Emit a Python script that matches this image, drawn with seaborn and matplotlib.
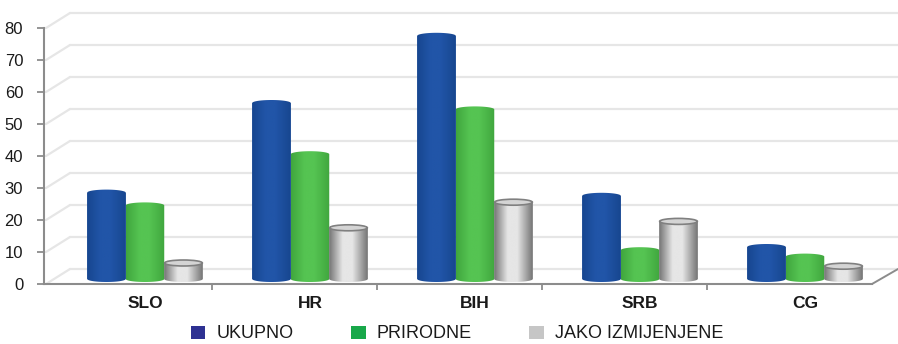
import numpy as np
import pandas as pd
import matplotlib
matplotlib.use("Agg")
import matplotlib.pyplot as plt
import seaborn as sns
import matplotlib.colors as mcolors
from matplotlib.transforms import offset_copy, IdentityTransform
from matplotlib.path import Path
from matplotlib.patches import PathPatch, Patch, Ellipse
from matplotlib.lines import Line2D

# ---------------- data ----------------
countries = ["SLO", "HR", "BIH", "SRB", "CG"]
series = ["UKUPNO", "PRIRODNE", "JAKO IZMIJENJENE"]
ukupno = [27, 55, 76, 26, 10]
prirodne = [23, 39, 53, 9, 7]
jako_izmijenjene = [5, 16, 24, 18, 4]
y_ticks = [0, 10, 20, 30, 40, 50, 60, 70, 80]

bar_colors = {"UKUPNO": "#1b4fa2", "PRIRODNE": "#4cb848", "JAKO IZMIJENJENE": "#bdbdbd"}
legend_colors = ["#2e3192", "#18a84a", "#c6c6c6"]
# shading: (edge, highlight) per series
shades = {
    "UKUPNO": ("#17468f", "#2155a8"),
    "PRIRODNE": ("#40a63e", "#55c452"),
    "JAKO IZMIJENJENE": ("#747474", "#e6e6e6"),
}

df = pd.DataFrame({
    "country": countries * 3,
    "series": [s for s in series for _ in countries],
    "value": ukupno + prirodne + jako_izmijenjene,
})

sns.set_theme(style="white")
plt.rcParams["font.family"] = ["Liberation Sans", "DejaVu Sans"]

W, H = 898, 344
fig = plt.figure(figsize=(W / 100, H / 100), dpi=100)
fig.patch.set_facecolor("white")
ax = fig.add_axes([44 / W, 60 / H, 828 / W, 256 / H])
ax.set_facecolor("none")

sns.barplot(data=df, x="country", y="value", hue="series", palette=bar_colors,
            width=0.70, saturation=1, ax=ax, legend=False, errorbar=None, zorder=3)

XL = (-0.612, 4.406)
ax.set_xlim(*XL)
ax.set_ylim(0, 80)

# bars sit slightly behind the front edge of the floor
bar_tr = offset_copy(ax.transData, fig=fig, x=0, y=5, units="dots")
e = 3.0 / 3.2  # ellipse half height in data units (~3 px)

patches = list(ax.patches)
n = len(countries)
for i, p in enumerate(patches):
    s = series[i // n] if i // n < len(series) else series[-1]
    x0, w, h = p.get_x(), p.get_width(), p.get_height()
    if w == 0:
        continue
    xc = x0 + w / 2
    t = np.linspace(np.pi, 0, 40)
    top = np.column_stack([xc + (w / 2) * np.cos(t), h + e * np.sin(t)])
    t2 = np.linspace(0, -np.pi, 40)
    bot = np.column_stack([xc + (w / 2) * np.cos(t2), 0 + e * np.sin(t2)])
    verts = np.vstack([[x0, 0], top, bot, [x0, 0]])
    codes = [Path.MOVETO] + [Path.LINETO] * (len(verts) - 2) + [Path.CLOSEPOLY]
    pp = PathPatch(Path(verts, codes), facecolor="none", edgecolor="none", transform=bar_tr)
    ax.add_patch(pp)
    p.set_transform(bar_tr)
    p.set_clip_path(pp)
    p.set_edgecolor("none")
    dark, light = shades[s]
    cmap = mcolors.LinearSegmentedColormap.from_list(
        "c", [(0, dark), (0.35, light), (0.6, light), (1, dark)])
    grad = np.linspace(0, 1, 200)[None, :]
    im = ax.imshow(grad, extent=(x0, x0 + w, -e, h + e), aspect="auto", cmap=cmap,
                   transform=bar_tr, zorder=3.5, interpolation="bilinear")
    im.set_clip_path(pp)
    if s == "JAKO IZMIJENJENE":
        cap = Ellipse((xc, h), w * 0.98, 2 * e, facecolor="#d4d4d4", edgecolor="#808080",
                      lw=1.2, transform=bar_tr, zorder=4)
        ax.add_patch(cap)

ax.set_xlim(*XL)
ax.set_ylim(0, 80)

# ---------------- 3D-like walls ----------------
wall_tr = offset_copy(ax.transData, fig=fig, x=26, y=15, units="dots")
for yv in y_ticks:
    ax.plot(list(XL), [yv, yv], transform=wall_tr, color="#e6e6e6", lw=1.6,
            clip_on=False, zorder=0)
fig.canvas.draw()
for yv in y_ticks:
    px, py = ax.transData.transform((XL[0], yv))
    fig.add_artist(Line2D([px + 2, px + 26], [py, py + 15], transform=IdentityTransform(),
                          color="#e6e6e6", lw=1.6, zorder=0))
# floor right edge
px, py = ax.transData.transform((XL[1], 0))
fig.add_artist(Line2D([px, px + 26], [py, py + 15], transform=IdentityTransform(),
                      color="#8c8c8c", lw=1.4, zorder=5))

# ---------------- axes styling ----------------
for sp in ["top", "right"]:
    ax.spines[sp].set_visible(False)
for sp in ["left", "bottom"]:
    ax.spines[sp].set_color("#8c8c8c")
    ax.spines[sp].set_linewidth(1.5)

ax.set_yticks(y_ticks)
ax.set_yticklabels([str(v) for v in y_ticks], fontsize=12, color="#1a1a1a")
ax.tick_params(axis="y", direction="out", length=5, width=1.3, color="#8c8c8c", pad=10, left=True)
ax.set_xticks(range(len(countries)))
ax.set_xticklabels(countries, fontsize=12.5, fontweight="bold", color="#1a1a1a")
ax.tick_params(axis="x", length=0, pad=9)
ax.set_xticks([k + 0.406 for k in range(len(countries) - 1)], minor=True)
ax.tick_params(axis="x", which="minor", direction="out", length=4, width=1.3, color="#8c8c8c", bottom=True)
ax.set_xlabel("")
ax.set_ylabel("")
ax.grid(False)

# ---------------- legend ----------------
handles = [Patch(facecolor=c, edgecolor="none") for c in legend_colors]
fig.legend(handles, series, loc="center", bbox_to_anchor=(457 / W, 1 - 334 / H),
           ncol=3, frameon=False, fontsize=13, handlelength=0.8, handleheight=0.7,
           handletextpad=0.6, columnspacing=3.2, labelcolor="#1a1a1a")

fig.savefig("out.png", dpi=100, facecolor="white")
